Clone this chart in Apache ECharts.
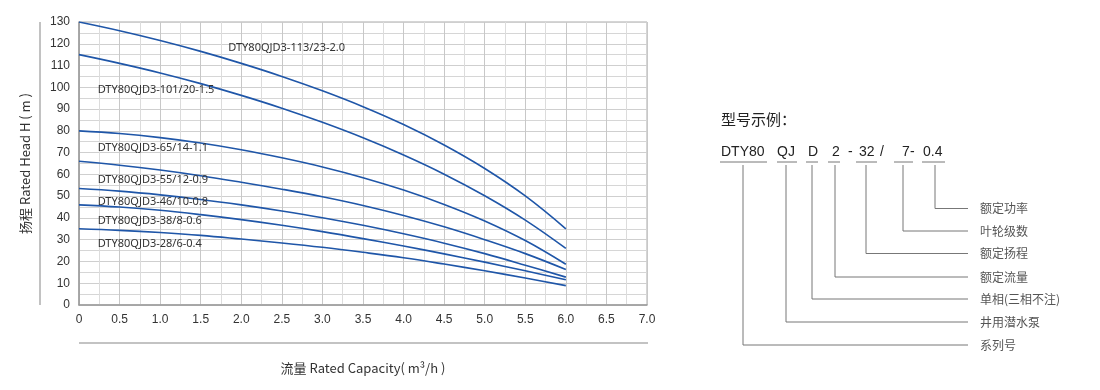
<!DOCTYPE html>
<html>
<head>
<meta charset="utf-8">
<script src="https://cdn.jsdelivr.net/npm/echarts@6/dist/echarts.min.js"></script>
<style>
html,body{margin:0;padding:0;background:#fff;}
#c{width:1100px;height:390px;}
</style>
</head>
<body>
<div id="c"></div>
<script>
// ---- data ----
const flow = [0, 0.5, 1, 1.5, 2, 2.5, 3, 3.5, 4, 4.5, 5, 5.5, 6];
const seriesNames = [
  'DTY80QJD3-113/23-2.0',
  'DTY80QJD3-101/20-1.5',
  'DTY80QJD3-65/14-1.1',
  'DTY80QJD3-55/12-0.9',
  'DTY80QJD3-46/10-0.8',
  'DTY80QJD3-38/8-0.6',
  'DTY80QJD3-28/6-0.4'
];
const h113 = [130, 126, 121.5, 116.5, 111, 105, 98.4, 91.1, 82.9, 73.5, 62.7, 50.1, 35];
const h101 = [115, 111, 106.6, 101.7, 96.3, 90.4, 83.9, 76.8, 68.9, 60.1, 50.2, 39, 26];
const h65  = [80, 78.8, 76.9, 74.4, 71.3, 67.6, 63.4, 58.5, 52.8, 46.2, 38.6, 29.6, 18.7];
const h55  = [66, 64.2, 62, 59.4, 56.4, 53.2, 49.7, 45.7, 41.1, 35.9, 30, 23.6, 16.3];
const h46  = [53.5, 52.3, 50.6, 48.5, 46, 43.2, 40.1, 36.6, 32.7, 28.4, 23.6, 18.3, 12.8];
const h38  = [46, 45, 43.5, 41.5, 39.2, 36.6, 33.7, 30.5, 27.1, 23.5, 19.7, 15.7, 11.6];
const h28  = [35, 34.3, 33.3, 32, 30.3, 28.5, 26.5, 24.2, 21.7, 18.8, 15.7, 12.4, 8.9];
const heads = [h113, h101, h65, h55, h46, h38, h28];
// label anchors (data units: flow, head)
const labelAt = [[1.84, 118], [0.23, 98.8], [0.23, 72], [0.23, 57.5], [0.23, 47.2], [0.23, 38.8], [0.23, 28.1]];
const xTickLabels = ['0', '0.5', '1.0', '1.5', '2.0', '2.5', '3.0', '3.5', '4.0', '4.5', '5.0', '5.5', '6.0', '6.5', '7.0'];
const yTickLabels = ['0', '10', '20', '30', '40', '50', '60', '70', '80', '90', '100', '110', '120', '130'];
const xAxisTitle = '流量 Rated Capacity( m³/h )';
const yAxisTitle = '扬程 Rated Head H ( m )';
// model code legend
const exampleTitle = '型号示例：';
const codeParts = ['DTY80', 'QJ', 'D', '2', '-', '32', '/', '7', '-', '0.4'];
const codeMeanings = ['系列号', '井用潜水泵', '单相(三相不注)', '额定流量', '额定扬程', '叶轮级数', '额定功率'];

// ---- layout (pixels) ----
const codeX = [721, 777, 808, 832, 848, 859, 880, 902, 910, 923];
const underlines = [[720, 767], [777, 797], [806, 818], [828, 840], [856, 877], [894, 913], [922, 945]];
const leadX = [743, 786, 812, 835, 866, 903, 935];
const leadY = [345, 322, 299, 277, 253.5, 231, 208.5];

const chart = echarts.init(document.getElementById('c'), null, {renderer: 'canvas'});

const series = heads.map((h, i) => ({
  name: seriesNames[i],
  type: 'line',
  smooth: 0.4,
  showSymbol: false,
  silent: true,
  lineStyle: {color: '#1f56a8', width: 1.6},
  data: flow.map((q, k) => [q, h[k]]),
  markPoint: {
    silent: true,
    symbol: 'circle',
    symbolSize: 0,
    data: [{coord: labelAt[i], value: seriesNames[i]}],
    label: {
      show: true,
      position: 'inside',
      align: 'left',
      verticalAlign: 'middle',
      formatter: seriesNames[i],
      color: '#333',
      fontSize: 11,
      fontFamily: 'Noto Sans'
    }
  }
}));

const graphics = [];
// decorative axis rules
graphics.push({type: 'line', shape: {x1: 40, y1: 22, x2: 40, y2: 305}, style: {stroke: '#999', lineWidth: 1.2}, silent: true});
graphics.push({type: 'line', shape: {x1: 79, y1: 343, x2: 648, y2: 343}, style: {stroke: '#888', lineWidth: 1.2}, silent: true});
// model code title
graphics.push({type: 'text', left: 721, top: 112, style: {text: exampleTitle, fill: '#222', font: '15px "Noto Sans CJK SC"'}, silent: true});
codeParts.forEach((t, i) => {
  graphics.push({type: 'text', x: codeX[i], y: 152, style: {text: t, fill: '#222', font: '14px "Liberation Sans"', textVerticalAlign: 'middle', textAlign: 'left'}, silent: true});
});
underlines.forEach(u => {
  graphics.push({type: 'line', shape: {x1: u[0], y1: 162, x2: u[1], y2: 162}, style: {stroke: '#777', lineWidth: 1}, silent: true});
});
leadX.forEach((x, i) => {
  graphics.push({type: 'polyline', shape: {points: [[x, 165], [x, leadY[i]], [968, leadY[i]]]}, style: {stroke: '#777', lineWidth: 1, fill: null}, silent: true});
  graphics.push({type: 'text', x: 980, y: leadY[i], style: {text: codeMeanings[i], fill: '#555', font: '12px "Noto Sans CJK SC"', textVerticalAlign: 'middle', textAlign: 'left'}, silent: true});
});

chart.setOption({
  animation: false,
  backgroundColor: '#fff',
  grid: {left: 79, top: 22, width: 568, height: 283, show: true, borderColor: '#aaa', borderWidth: 1},
  xAxis: {
    type: 'value', min: 0, max: 7, interval: 0.5,
    name: xAxisTitle, nameLocation: 'middle', nameGap: 57,
    nameTextStyle: {color: '#333', fontSize: 13, fontFamily: 'Noto Sans CJK SC'},
    axisLine: {show: true, lineStyle: {color: '#999', width: 1.5}},
    axisTick: {show: false},
    axisLabel: {color: '#333', fontSize: 12, fontFamily: 'Liberation Sans', margin: 9,
      formatter: (v) => xTickLabels[Math.round(v / 0.5)]},
    splitLine: {show: true, lineStyle: {color: '#c8c8c8', width: 1}},
    minorTick: {show: false, splitNumber: 2},
    minorSplitLine: {show: true, lineStyle: {color: '#dcdcdc', width: 1}}
  },
  yAxis: {
    type: 'value', min: 0, max: 130, interval: 10,
    name: yAxisTitle, nameLocation: 'middle', nameGap: 47,
    nameTextStyle: {color: '#333', fontSize: 13, fontFamily: 'Noto Sans CJK SC'},
    axisLine: {show: true, lineStyle: {color: '#999', width: 1.5}},
    axisTick: {show: false},
    axisLabel: {color: '#333', fontSize: 12, fontFamily: 'Liberation Sans', margin: 9,
      formatter: (v) => yTickLabels[Math.round(v / 10)]},
    splitLine: {show: true, lineStyle: {color: '#cfcfcf', width: 1}},
    minorTick: {show: false, splitNumber: 2},
    minorSplitLine: {show: true, lineStyle: {color: '#d6d6d6', width: 1}}
  },
  series: series,
  graphic: graphics
});
</script>
</body>
</html>
